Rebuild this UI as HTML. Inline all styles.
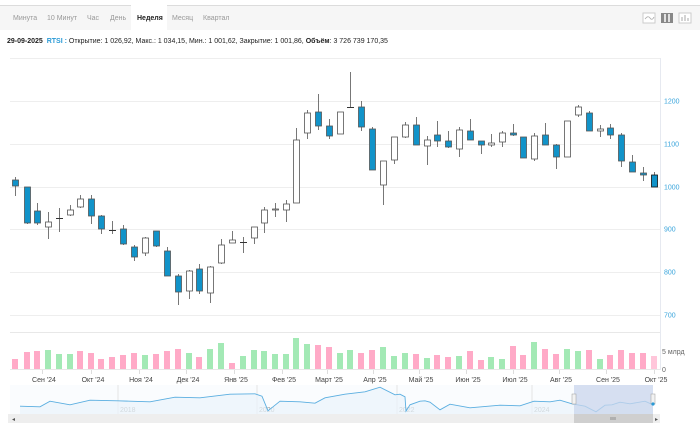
<!DOCTYPE html>
<html><head><meta charset="utf-8">
<style>
body{margin:0;width:700px;height:428px;overflow:hidden;background:#fff;font-family:"Liberation Sans",sans-serif;}
svg{position:absolute;left:0;top:0}
</style></head><body>
<svg id="s" width="700" height="428" xmlns="http://www.w3.org/2000/svg" font-family="Liberation Sans, sans-serif">
<rect x="0" y="5" width="700" height="25" fill="#f6f6f6"/>
<line x1="0" y1="5.5" x2="700" y2="5.5" stroke="#dcdcdc"/>
<rect x="131" y="5" width="36" height="25" fill="#fff"/>
<g font-size="7" fill="#999">
<text x="13" y="20">Минута</text><text x="47" y="20">10 Минут</text><text x="87" y="20">Час</text><text x="110" y="20">День</text>
<text x="137" y="20" fill="#222" font-weight="bold">Неделя</text><text x="172" y="20">Месяц</text><text x="203" y="20">Квартал</text>
</g>
<rect x="643" y="13" width="12" height="10" fill="#fff" stroke="#ccc"/><path d="M645 19 Q648 15 650 18 T654 17" fill="none" stroke="#aaa" stroke-width="0.8"/>
<rect x="661" y="13" width="12" height="10" fill="#888"/><path d="M665 14v8M669 14v8" stroke="#fff" stroke-width="1.5"/>
<rect x="679" y="13" width="12" height="10" fill="#fff" stroke="#ccc"/><path d="M682 21v-4M685 21v-6M688 21v-3" stroke="#aaa"/>
<text x="7" y="43" font-size="7" fill="#222"><tspan font-weight="bold">29-09-2025</tspan><tspan fill="#2a9ad6" font-weight="bold"> &#160;RTSI : </tspan><tspan>Открытие: 1 026,92, Макс.: 1 034,15, Мин.: 1 001,62, Закрытие: 1 001,86, </tspan><tspan font-weight="bold">Объём</tspan><tspan>: 3 726 739 170,35</tspan></text>
<line x1="10" y1="58.5" x2="660" y2="58.5" stroke="#eee"/>
<line x1="660.5" y1="58" x2="660.5" y2="370" stroke="#e6e9f0"/>
<g id="grid" stroke="#eee"></g>
<g id="ylab" font-size="7" fill="#3aa5dc"></g>
<g id="candles"></g>
<line x1="10" y1="332.5" x2="660" y2="332.5" stroke="#e8e8e8"/>
<line x1="10" y1="369.5" x2="660" y2="369.5" stroke="#e8e8e8"/>
<g id="vol"></g>
<text x="662" y="354" font-size="7" fill="#666">5 млрд</text>
<text x="662" y="372" font-size="7" fill="#666">0</text>
<g id="xlab" font-size="7" fill="#444" text-anchor="middle"></g>
<rect x="10" y="385" width="643" height="29" fill="#fafcfe"/>
<g id="navgrid" stroke="#e4e4e4"></g>
<g id="navyr" font-size="7" fill="#999"></g>
<path id="navfill" fill="#eaf4fb" opacity="0.7"/>
<path id="navline" fill="none" stroke="#5aaee0" stroke-width="0.9"/>
<rect x="574" y="385" width="79" height="29" fill="#c9d5ec" opacity="0.75"/>
<rect x="572" y="394" width="4" height="10" fill="#f2f2f2" stroke="#999" stroke-width="0.5"/>
<rect x="651" y="394" width="4" height="10" fill="#f2f2f2" stroke="#999" stroke-width="0.5"/>
<circle cx="653" cy="404" r="1.6" fill="#2a9ad6"/>
<rect x="8" y="414" width="652" height="9" fill="#eeeeee"/>
<rect x="574" y="414" width="79" height="9" fill="#cfcfcf"/>
<text x="12" y="421" font-size="6" fill="#555">◂</text><text x="655" y="421" font-size="6" fill="#555">▸</text>
<path d="M611 417v3M613 417v3M615 417v3" stroke="#666" stroke-width="0.6"/>
</svg>
<script>
var NS="http://www.w3.org/2000/svg";
function el(p,t,a,txt){var e=document.createElementNS(NS,t);for(var k in a)e.setAttribute(k,a[k]);if(txt)e.textContent=txt;document.getElementById(p).appendChild(e);return e;}
var gy=[[1200,101],[1100,144],[1000,187],[900,229],[800,272],[700,315]];
gy.forEach(function(g){el("grid","line",{x1:10,x2:660,y1:g[1]+.5,y2:g[1]+.5});el("ylab","text",{x:664,y:g[1]+2.5},g[0]);});
var C=[[15,180,186,177,196,1],[27,187,223,187,224,1],[37,211,223,203,225,1],[48,222,227,212,239,0],[59,218,218,208,232,2],[70,210,215,205,216,0],[80,199,207,195,208,0],[91,199,216,195,224,1],[101,216,229,215,234,1],[112,230,230,221,234,2],[123,229,244,225,245,1],[134,247,257,245,261,1],[145,238,253,237,256,0],[156,231,246,231,247,1],[167,251,276,247,276,1],[178,276,292,274,305,1],[189,271,291,270,299,0],[199,269,291,264,294,1],[210,267,293,266,303,0],[221,245,263,239,264,0],[232,240,243,231,243,0],[243,242,242,237,253,2],[254,227,238,227,244,0],[264,210,223,207,233,0],[275,209,210,203,217,0],[286,204,210,200,222,0],[296,140,203,128,203,0],[307,113,133,110,139,0],[318,112,126,94,130,1],[329,126,136,119,139,1],[340,112,134,112,134,0],[350,107,107,72,108,2],[361,107,127,101,131,1],[372,129,170,127,170,1],[383,161,185,161,205,0],[394,137,160,137,164,0],[405,125,137,122,138,0],[416,125,145,117,145,1],[427,140,146,136,165,0],[437,135,141,121,147,1],[448,141,147,131,148,1],[459,130,149,127,157,0],[470,131,140,119,140,1],[481,141,145,141,154,1],[491,143,145,134,147,0],[502,133,142,131,147,0],[513,133,135,124,136,1],[523,137,158,137,158,1],[534,136,159,133,161,0],[545,135,145,123,145,1],[556,145,157,144,169,1],[567,121,157,121,157,0],[578,107,115,105,117,0],[589,113,131,111,131,1],[600,129,131,125,137,0],[610,128,135,124,139,1],[621,135,161,133,167,1],[632,162,172,155,172,1],[643,173,175,167,181,1],[654,175,187,172,187,1]];
C.forEach(function(c){
 el("candles","line",{x1:c[0]+.5,x2:c[0]+.5,y1:c[3],y2:c[4],stroke:"#555","stroke-width":0.8});
 if(c[5]==2){el("candles","line",{x1:c[0]-3,x2:c[0]+4,y1:c[1]+.5,y2:c[1]+.5,stroke:"#333","stroke-width":1});}
 else el("candles","rect",{x:c[0]-2.5,y:c[1],width:6,height:Math.max(1,c[2]-c[1]),fill:c[5]?"#1193c9":"#fff",stroke:c[0]==654?"#111":"#555","stroke-width":0.8});
});
var V=[[359,"p"],[352,"p"],[351,"p"],[350,"g"],[354,"g"],[354,"g"],[351,"p"],[353,"p"],[359,"p"],[357,"p"],[355,"p"],[353,"p"],[355,"g"],[354,"p"],[351,"p"],[349,"p"],[353,"g"],[357,"p"],[349,"g"],[343,"g"],[363,"p"],[356,"g"],[350,"g"],[351,"g"],[354,"g"],[354,"g"],[338,"g"],[344,"g"],[345,"p"],[347,"p"],[353,"g"],[350,"g"],[353,"p"],[350,"p"],[347,"g"],[356,"g"],[353,"g"],[354,"p"],[358,"g"],[355,"p"],[357,"p"],[356,"g"],[351,"p"],[360,"p"],[357,"g"],[359,"g"],[346,"p"],[355,"p"],[342,"g"],[349,"p"],[354,"p"],[349,"g"],[351,"g"],[350,"p"],[359,"g"],[355,"p"],[350,"p"],[353,"p"],[353,"p"],[356,"l"]];
V.forEach(function(v,i){var x=C[i][0];el("vol","rect",{x:x-3,y:v[0],width:6,height:369-v[0],fill:v[1]=="p"?"#ffaac7":v[1]=="g"?"#a3e9b5":"#ffc6da"});});
var XL=[["Сен '24",44],["Окт '24",93],["Ноя '24",141],["Дек '24",188],["Янв '25",236],["Фев '25",284],["Март '25",329],["Апр '25",375],["Май '25",421],["Июн '25",468],["Июл '25",515],["Авг '25",561],["Сен '25",608],["Окт '25",656]];
XL.forEach(function(l){el("xlab","text",{x:l[1],y:382},l[0]);el("vol","line",{x1:l[1]-1.5,x2:l[1]-1.5,y1:370,y2:374,stroke:"#ddd"});});
[[118,"2018"],[257,"2020"],[397,"2022"],[532,"2024"]].forEach(function(n){el("navgrid","line",{x1:n[0],x2:n[0],y1:385,y2:414});el("navyr","text",{x:n[0]+2,y:412},n[1]);});
var P=[[20,407],[40,406],[50,402],[70,404],[90,401],[118,400],[130,402],[150,401],[175,398],[200,397],[230,395],[255,393],[262,397],[268,410],[280,402],[300,401],[315,404],[325,397],[345,395],[365,391],[380,388],[395,394],[400,395],[405,396],[406,412],[410,404],[420,402],[425,400],[430,403],[440,409],[450,405],[470,407],[500,406],[520,405],[534,402],[550,401],[560,401],[572,403],[585,407],[596,411],[605,406],[612,404],[620,403],[630,403],[645,402],[653,404]];
var d="";P.forEach(function(p,i){var j=(i%2?0.8:-0.8);d+=(i?"L":"M")+p[0]+" "+(p[1]+j);});
document.getElementById("navline").setAttribute("d",d);
document.getElementById("navfill").setAttribute("d",d+"L653 414L20 414Z");
</script>
</body></html>
